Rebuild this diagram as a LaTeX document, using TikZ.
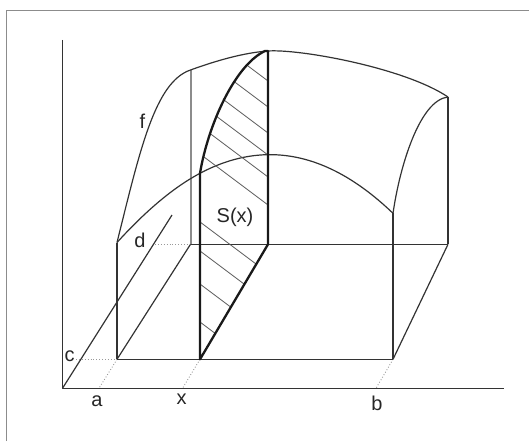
\documentclass[tikz,border=0pt]{standalone}
\usepackage{fontspec}
\setmainfont{Liberation Sans}
\usetikzlibrary{positioning}

\begin{document}
\begin{tikzpicture}[
      x=1pt,
      y=-1pt,
      line join=round,
      edge/.style={draw=black!80, line width=1.2pt},
      section/.style={draw=black!90, line width=2.3pt},
      backline/.style={draw=black!45, line width=2pt},
      guide/.style={draw=black!40, dotted, line width=0.9pt},
      hatchline/.style={draw=black!65, line width=0.8pt},
      lbl/.style={font=\fontsize{20}{23}\selectfont, text=black!85, inner sep=1pt}
    ]
    \useasboundingbox (0,0) rectangle (529,441);
    \draw[draw=black!45, line width=1.5pt] (6.5,441) -- (6.5,10.5) -- (529,10.5);

    \coordinate (O) at (62.5,388.3);
    \coordinate (ytop) at (62.5,40);
    \coordinate (xend) at (504,388.3);
    \coordinate (ctop) at (172,215);

    \coordinate (A1) at (117,359.3);
    \coordinate (X1) at (200,359.3);
    \coordinate (B1) at (393,359.3);
    \coordinate (A2) at (190.5,244.3);
    \coordinate (X2) at (268,244.3);
    \coordinate (B2) at (448,244.3);

    \coordinate (FL) at (117,242.5);
    \coordinate (XF) at (200,173.3);
    \coordinate (FR) at (393,213.3);
    \coordinate (BL) at (190.5,70);
    \coordinate (XB) at (268,51);
    \coordinate (BR) at (448,97);

    \coordinate (cmark) at (76,359.3);
    \coordinate (dmark) at (155,244.3);
    \coordinate (afoot) at (99,388.3);
    \coordinate (xfoot) at (182.5,388.3);
    \coordinate (bfoot) at (376,388.3);

    \draw[edge] (ytop) -- (O) -- (xend);
    \draw[edge] (O) -- (ctop);

    \foreach \a/\b in {cmark/A1,dmark/A2,A1/afoot,X1/xfoot,B1/bfoot}
      \draw[guide] (\a) -- (\b);

    \draw[backline] (BL) -- (A2);
    \foreach \a/\b in {A1/B1,A2/B2,A1/A2,B1/B2,FL/A1,FR/B1,BR/B2}
      \draw[edge] (\a) -- (\b);

    \draw[edge] (FL) .. controls (140,150) and (155,82) .. (BL)
      .. controls (218,60) and (245,52.6) .. (XB)
      .. controls (300,48.8) and (405,68) .. (BR);
    \draw[edge] (FL) .. controls (146.5,210.1) and (174.1,187) .. (XF)
      .. controls (265,138.8) and (329.3,152.2) .. (FR);
    \draw[edge] (FR) .. controls (400,165) and (420,100) .. (BR);

    \begin{scope}
      \clip (X1) -- (XF) .. controls (208,125) and (235,65) .. (265,51)
        -- (XB) -- (X2) -- cycle;
      \foreach \h in {30,56,82,104,126,154,222,251,284,322}
        \draw[hatchline] (190,{\h-7.5}) -- (290,{\h+67.5});
    \end{scope}
    \draw[section] (X1) -- (XF) .. controls (208,125) and (235,65) .. (265,51)
      -- (XB) -- (X2) -- cycle;

    \node[lbl] (flabel) at (142.5,121) {f};
    \node[lbl] (slabel) at (235,217) {S(x)};
    \node[lbl] (clabel) at (69.5,356) {c};
    \node[lbl] (dlabel) at (140,240) {d};
    \node[lbl] (alabel) at (97,401.5) {a};
    \node[lbl] (xlabel) at (181.5,399.5) {x};
    \node[lbl] (blabel) at (377,403.5) {b};
  \end{tikzpicture}
\end{document}
